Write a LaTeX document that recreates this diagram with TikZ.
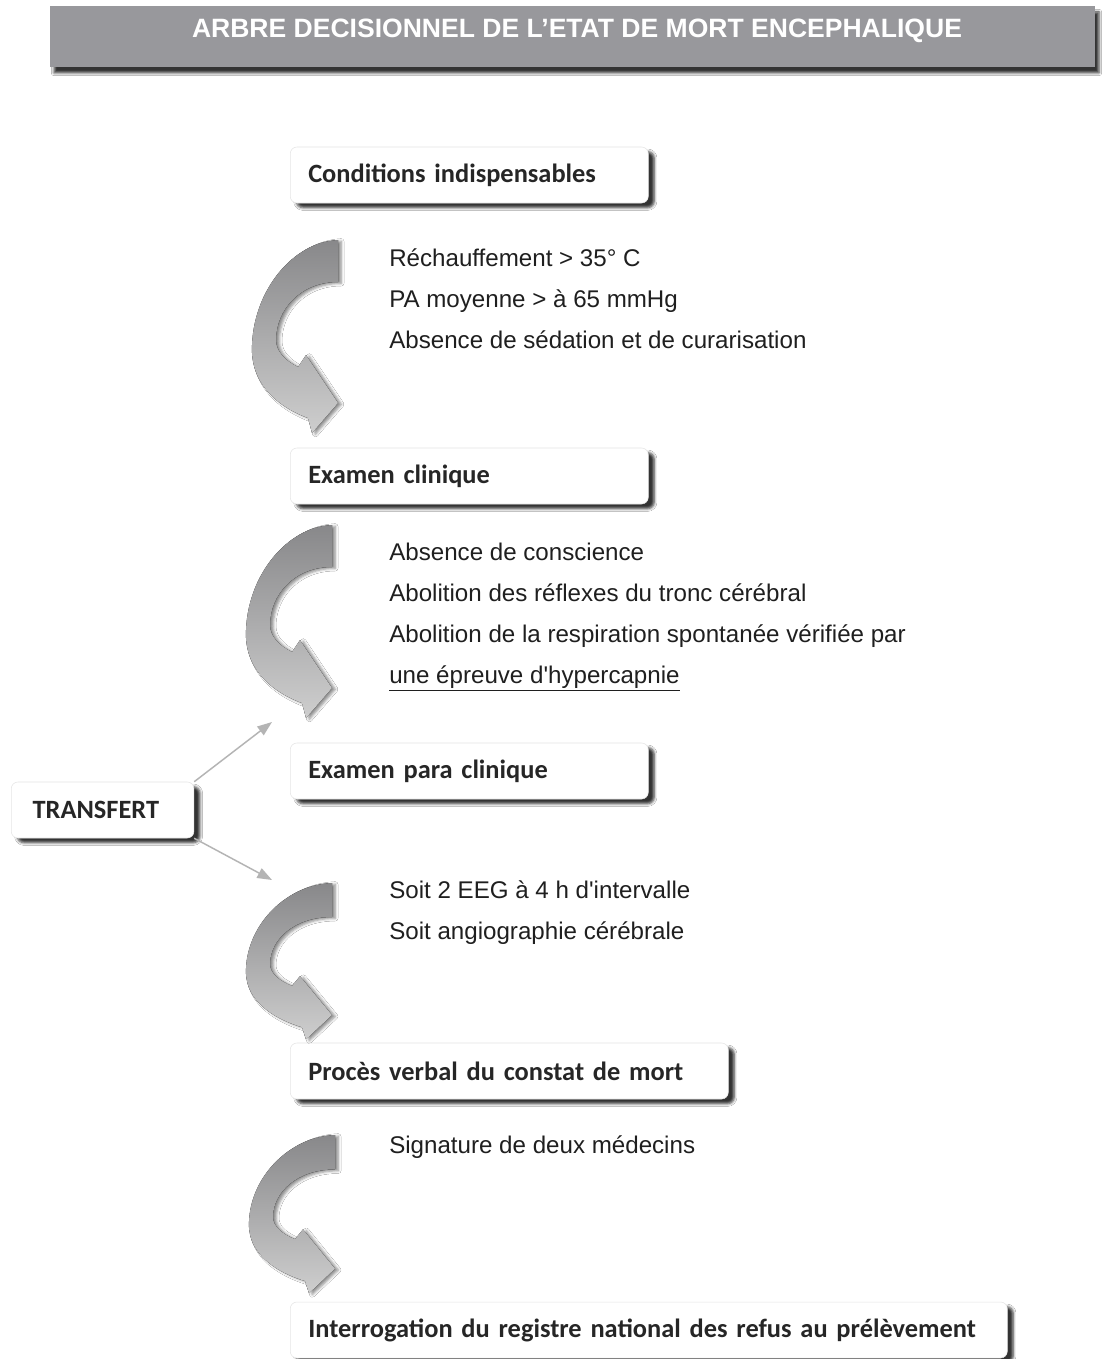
\documentclass[tikz,border=0pt]{standalone}
\usepackage{fontspec}
\setmainfont{Liberation Sans}[Ligatures=TeXOff]
\newfontfamily\labelfont{Carlito}
\usetikzlibrary{arrows.meta,shadows.blur}
\definecolor{headgray}{RGB}{152,152,156}
\definecolor{arrowdark}{RGB}{136,136,138}
\definecolor{arrowlight}{RGB}{206,206,206}
\definecolor{linkgray}{RGB}{180,180,180}
\definecolor{labelink}{RGB}{38,38,38}
\tikzset{
  stepbox/.style={rectangle, rounded corners=5pt, fill=white, draw=black!10, line width=0.4pt,
    minimum height=42pt, inner xsep=13.5pt, align=left, anchor=west,
    font=\labelfont\bfseries\fontsize{19.8}{22}\selectfont, text=labelink,
    blur shadow={shadow xshift=4.5pt, shadow yshift=-3.5pt, shadow blur radius=2pt, shadow opacity=80}},
  bodytext/.style={anchor=base west, inner sep=0pt, font=\fontsize{18.1}{22}\selectfont, text=black!88},
  link/.style={draw=linkgray, line width=1.1pt, -{Triangle[length=11pt,width=8pt]}},
  bendarrow/.pic={
    \fill[top color=arrowdark, bottom color=arrowlight,
      blur shadow={shadow xshift=2.5pt, shadow yshift=-1pt, shadow blur radius=2pt, shadow opacity=45}]
      (0,0) -- (0,42) .. controls (-38,42) and (-62,70) .. (-62,100)
      .. controls (-62,112) and (-52,121) .. (-40,127) -- (-32,115) -- (0,163)
      -- (-26,193) -- (-30,178) .. controls (-65,165) and (-88,140) .. (-86,105)
      .. controls (-84,50) and (-45,2) .. (0,0) -- cycle;
  }
}
\begin{document}
\begin{tikzpicture}[x=0.75pt, y=-0.75pt]
        \fill[white] (0,0) rectangle (1110,1359);
        \useasboundingbox (0,0) rectangle (1110,1359);
        % title bar
        \fill[headgray, blur shadow={shadow xshift=3pt, shadow yshift=-4.5pt, shadow blur radius=2pt, shadow opacity=80}] (50,6) rectangle (1095,67);
        \node[font=\bfseries\fontsize{19.9}{22}\selectfont, text=white] (title) at (577,31) {ARBRE DECISIONNEL DE L’ETAT DE MORT ENCEPHALIQUE};
        % steps
        \node[stepbox, text width=241.5pt] (cond) at (290,175) {Conditions indispensables};
        \node[stepbox, text width=241.5pt] (clin) at (290,476) {Examen clinique};
        \node[stepbox, text width=241.5pt] (para) at (290,771) {Examen para clinique};
        \node[stepbox, text width=301.5pt] (pv) at (290,1071) {Procès verbal du constat de mort};
        \node[stepbox, text width=510.75pt] (reg) at (290,1330) {Interrogation du registre national des refus au prélèvement};
        \node[stepbox, text width=105pt, inner xsep=16pt] (tr) at (11,810) {TRANSFERT};
        % curved arrows
        \pic at (338,240) {bendarrow};
        \pic at (332,525) {bendarrow};
        \pic[yscale=0.81] at (332,883) {bendarrow};
        \pic[yscale=0.82] at (335,1135) {bendarrow};
        % conditions
        \node[bodytext] (c1) at (389,266) {Réchauffement > 35° C};
        \node[bodytext] (c2) at (389,307) {PA moyenne > à 65 mmHg};
        \node[bodytext] (c3) at (389,348) {Absence de sédation et de curarisation};
        % clinical signs
        \node[bodytext] (s1) at (389,560) {Absence de conscience};
        \node[bodytext] (s2) at (389,601) {Abolition des réflexes du tronc cérébral};
        \node[bodytext] (s3) at (389,642) {Abolition de la respiration spontanée vérifiée par};
        \node[bodytext] (s4) at (389,683) {\underline{une épreuve d'hypercapnie}};
        % para clinical
        \node[bodytext] (e1) at (389,898) {Soit 2 EEG à 4 h d'intervalle};
        \node[bodytext] (e2) at (389,939) {Soit angiographie cérébrale};
        % signature
        \node[bodytext] (g1) at (389,1153) {Signature de deux médecins};
        % transfer links
        \coordinate (up) at (272,722);
        \coordinate (down) at (272,880);
        \draw[link] (tr.north east) -- (up);
        \draw[link] (tr.south east) -- (down);
\end{tikzpicture}
\end{document}
